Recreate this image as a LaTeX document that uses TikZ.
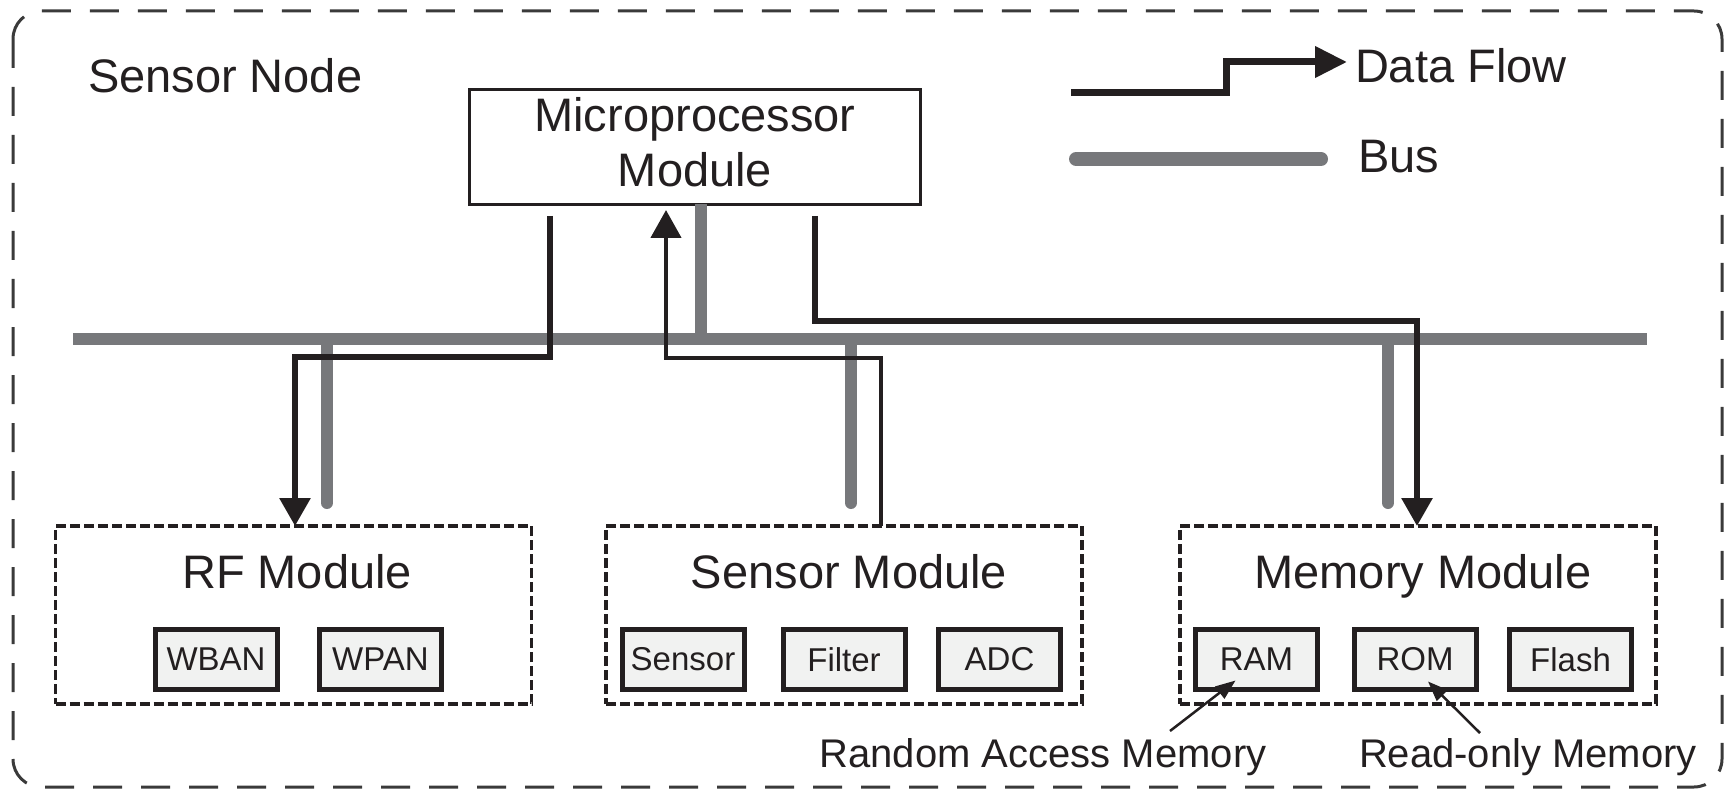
\documentclass[tikz,border=0pt]{standalone}
\usepackage{fontspec}
\setmainfont{Liberation Sans}
\usetikzlibrary{arrows.meta,calc}
\definecolor{ink}{HTML}{231F20}
\definecolor{busgray}{HTML}{77787B}
\definecolor{boxfill}{HTML}{F1F2F1}
\definecolor{framegray}{HTML}{3A3A3A}
\begin{document}
\begin{tikzpicture}[x=1pt,y=-1pt,
  every node/.style={inner sep=0pt,outer sep=0pt,text=ink},
  bigtext/.style={font=\fontsize{47pt}{55pt}\selectfont},
  midtext/.style={font=\fontsize{40pt}{46pt}\selectfont},
  smalltext/.style={font=\fontsize{33pt}{38pt}\selectfont},
  modbox/.style={draw=ink,line width=3.5pt,dash pattern=on 10pt off 4pt,minimum width=476pt,minimum height=178pt},
  unitbox/.style={draw=ink,line width=5pt,fill=boxfill,minimum width=122pt,minimum height=60pt,smalltext},
  bus/.style={draw=busgray,line width=12pt},
  flow/.style={draw=ink,line width=6pt,-{Triangle[length=28pt,width=30pt]}},
  flowthin/.style={draw=ink,line width=4.5pt,-{Triangle[length=28pt,width=30pt]}},
  note/.style={draw=ink,line width=2.5pt,-{Triangle[length=20pt,width=15pt]}}
]
\useasboundingbox (0,0) rectangle (1729,794);
% outer frame
\draw[framegray,line width=3pt,dash pattern=on 29pt off 19pt,rounded corners=28pt] (13,11) rectangle (1722,787);
\node[bigtext,anchor=base west] (title) at (88,93) {Sensor Node};

% bus
\coordinate (busL) at (73,339);
\coordinate (busR) at (1647,339);
\coordinate (bmp) at (701,339);
\coordinate (brf) at (327,503);
\coordinate (bsm) at (851,503);
\coordinate (bmm) at (1388,503);

% microprocessor
\node[draw=ink,line width=3.5pt,fill=white,minimum width=451pt,minimum height=115pt,bigtext,align=center] (mp) at (695,147) {Microprocessor\\Module\rule[-11pt]{0pt}{0pt}};
\draw[bus] (bmp) -- (bmp |- mp.south);
\draw[bus] (busL) -- (busR);
\draw[bus,line cap=round] (brf |- busL) -- (brf);
\draw[bus,line cap=round] (bsm |- busL) -- (bsm);
\draw[bus,line cap=round] (bmm |- busL) -- (bmm);

% modules
\node[modbox] (rf) at (293.5,615) {};
\node[modbox] (sm) at (844,615) {};
\node[modbox] (mm) at (1418,615) {};
\node[bigtext,anchor=base] (rft) at (297,588) {RF Module};
\node[bigtext,anchor=base] (smt) at (849,588) {Sensor Module};
\node[bigtext,anchor=base] (mmt) at (1423,588) {Memory Module};

\node[unitbox] (wban) at (216,659.5) {WBAN};
\node[unitbox] (wpan) at (380.5,659.5) {WPAN};
\node[unitbox] (sens) at (683,659.5) {Sensor};
\node[unitbox] (filt) at (844,659.5) {Filter};
\node[unitbox] (adc) at (999.5,659.5) {ADC};
\node[unitbox] (ram) at (1256.5,659.5) {RAM};
\node[unitbox] (rom) at (1415,659.5) {ROM};
\node[unitbox] (flash) at (1570.5,659.5) {Flash};

% data flows
\coordinate (rf0) at (550,216);
\coordinate (rf1) at (295,357);
\draw[flow] (rf0) |- (rf1) -- (rf1 |- rf.north);
\coordinate (sm1) at (881,358);
\coordinate (sm2) at (666,210);
\draw[flowthin] (sm1 |- sm.north) -- (sm1) -| (sm2);
\coordinate (mm0) at (815,216);
\coordinate (mm1) at (1417,321);
\draw[flow] (mm0) |- (mm1) -- (mm1 |- mm.north);

% legend
\coordinate (lf0) at (1071,93);
\coordinate (lf1) at (1226,62);
\coordinate (lf2) at (1347,62);
\draw[flow,line width=7pt,-{Triangle[length=32pt,width=30pt]}] (lf0) -| (lf1) -- (lf2);
\node[bigtext,anchor=base west] (lflow) at (1355,83) {Data Flow};
\coordinate (lb0) at (1076,159);
\coordinate (lb1) at (1321,159);
\draw[bus,line width=14pt,line cap=round] (lb0) -- (lb1);
\node[bigtext,anchor=base west] (lbus) at (1358,173) {Bus};

% annotations
\node[midtext,anchor=base] (ramt) at (1043,767) {Random Access Memory};
\node[midtext,anchor=base] (romt) at (1528,767) {Read-only Memory};
\coordinate (ramtail) at (1170,731);
\coordinate (romtail) at (1480,733);
\draw[note] (ramtail) -- ($(ram.center)+(-21,21)$);
\draw[note] (romtail) -- ($(rom.center)+(13,22)$);
\end{tikzpicture}
\end{document}
